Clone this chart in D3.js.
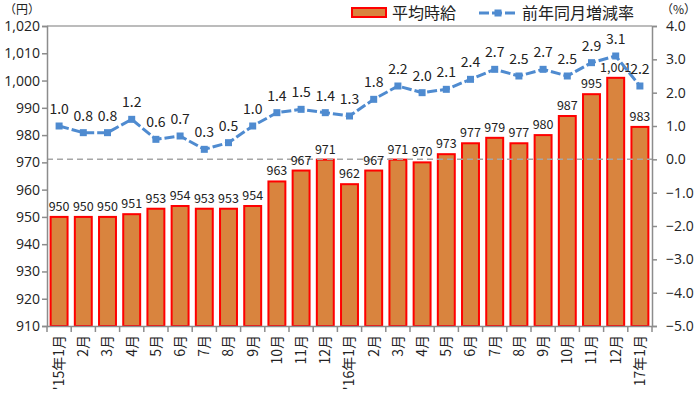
<!DOCTYPE html>
<html><head><meta charset="utf-8">
<script src="https://cdn.jsdelivr.net/npm/d3@7"></script>
<style>body{margin:0;background:#fff}svg{display:block;font-family:"Noto Sans CJK JP","Noto Sans",sans-serif}</style>
</head><body><svg id="c" width="700" height="396"></svg>
<script>
const categories = ["'15年1月","2月","3月","4月","5月","6月","7月","8月","9月","10月","11月","12月",
  "'16年1月","2月","3月","4月","5月","6月","7月","8月","9月","10月","11月","12月","17年1月"];
const wage = [950,950,950,951,953,954,953,953,954,963,967,971,962,967,971,970,973,977,979,977,980,987,995,1001,983];
const yoy = [1.0,0.8,0.8,1.2,0.6,0.7,0.3,0.5,1.0,1.4,1.5,1.4,1.3,1.8,2.2,2.0,2.1,2.4,2.7,2.5,2.7,2.5,2.9,3.1,2.2];
const leftTicks = [910,920,930,940,950,960,970,980,990,1000,1010,1020];
const rightTicks = [-5,-4,-3,-2,-1,0,1,2,3,4];
const seriesNames = ["平均時給","前年同月増減率"];

const svg = d3.select("#c");
const L = 47, R = 652, T = 26, B = 326;
const x = d3.scaleBand().domain(d3.range(categories.length)).range([L, R]).paddingInner(0.3).paddingOuter(0.15);
const yL = d3.scaleLinear().domain([910, 1020]).range([B, T]);
const yR = d3.scaleLinear().domain([-5, 4]).range([B, T]);
const axisCol = "#8c8c8c", txtCol = "#222";
const barFill = "#D9843E", barStroke = "#FF0000", lineCol = "#4F8BD0";

// top border
svg.append("line").attr("x1", L).attr("x2", R).attr("y1", T).attr("y2", T).attr("stroke", "#a6a6a6").attr("stroke-width", 1.5);

// bars
svg.selectAll("rect.bar").data(wage).join("rect").attr("class", "bar")
  .attr("x", (d, i) => x(i)).attr("width", x.bandwidth())
  .attr("y", d => yL(d)).attr("height", d => B - yL(d))
  .attr("fill", barFill).attr("stroke", barStroke).attr("stroke-width", 2);

// zero line
svg.append("line").attr("x1", L).attr("x2", R).attr("y1", yR(0)).attr("y2", yR(0))
  .attr("stroke", "#a6a6a6").attr("stroke-width", 1.5).attr("stroke-dasharray", "6,4");

// bar labels
svg.selectAll("text.bl").data(wage).join("text").attr("class", "bl")
  .attr("x", (d, i) => x(i) + x.bandwidth() / 2).attr("y", d => yL(d) - 6)
  .attr("text-anchor", "middle").attr("font-size", 12.5).attr("fill", txtCol)
  .text(d => d3.format(",")(d));

// line
const cx = i => x(i) + x.bandwidth() / 2;
svg.append("path").datum(yoy)
  .attr("d", d3.line().x((d, i) => cx(i)).y(d => yR(d)))
  .attr("fill", "none").attr("stroke", lineCol).attr("stroke-width", 3).attr("stroke-dasharray", "10,3");
svg.selectAll("rect.mk").data(yoy).join("rect").attr("class", "mk")
  .attr("x", (d, i) => cx(i) - 3.5).attr("y", d => yR(d) - 3.5).attr("width", 7).attr("height", 7).attr("fill", lineCol);
svg.selectAll("text.ll").data(yoy).join("text").attr("class", "ll")
  .attr("x", (d, i) => cx(i)).attr("y", d => yR(d) - 12)
  .attr("text-anchor", "middle").attr("font-size", 14).attr("fill", txtCol)
  .text(d => d.toFixed(1));

// left axis
const gL = svg.append("g").attr("transform", `translate(${L},0)`)
  .call(d3.axisLeft(yL).tickValues(leftTicks).tickSize(5).tickFormat(d3.format(",")));
// right axis
const gR = svg.append("g").attr("transform", `translate(${R},0)`)
  .call(d3.axisRight(yR).tickValues(rightTicks).tickSize(5).tickFormat(d3.format(".1f")));
// bottom axis
const gB = svg.append("g").attr("transform", `translate(0,${B})`)
  .call(d3.axisBottom(x).tickSize(0).tickFormat(i => categories[i]));
[gL, gR, gB].forEach(g => {
  g.selectAll("path.domain").attr("stroke", axisCol).attr("stroke-width", 1.5);
  g.selectAll(".tick line").attr("stroke", axisCol).attr("stroke-width", 1.5);
  g.selectAll("text").attr("fill", txtCol).attr("font-size", 14)
    .attr("font-family", "'Noto Sans CJK JP','Noto Sans',sans-serif");
});
gL.selectAll("text").attr("x", -7).attr("font-family", "'Open Sans','Noto Sans',sans-serif");
gR.selectAll("text").attr("x", 14).attr("font-family", "'Open Sans','Noto Sans',sans-serif");
gB.selectAll(".tick text").attr("transform", "rotate(-90)").attr("text-anchor", "end")
  .attr("x", -9).attr("y", 0).attr("dy", "0.35em");
// boundary ticks on bottom axis
const bounds = d3.range(categories.length + 1).map(i => L + (R - L) / categories.length * i);
gB.selectAll("line.bt").data(bounds).join("line").attr("class", "bt")
  .attr("x1", d => d).attr("x2", d => d).attr("y1", 0).attr("y2", 6)
  .attr("stroke", axisCol).attr("stroke-width", 1.5);

// unit labels
svg.append("text").attr("x", 4).attr("y", 14).attr("font-size", 12).attr("fill", txtCol).text("（円）");
svg.append("text").attr("x", 661).attr("y", 14).attr("font-size", 12).attr("fill", txtCol).text("（%）");

// legend
const lg = svg.append("g");
lg.append("rect").attr("x", 352).attr("y", 8).attr("width", 34).attr("height", 9)
  .attr("fill", barFill).attr("stroke", barStroke).attr("stroke-width", 2);
lg.append("text").attr("x", 392).attr("y", 19).attr("font-size", 16).attr("fill", txtCol).text(seriesNames[0]);
lg.append("line").attr("x1", 479).attr("x2", 517).attr("y1", 13).attr("y2", 13)
  .attr("stroke", lineCol).attr("stroke-width", 3).attr("stroke-dasharray", "10,3");
lg.append("rect").attr("x", 494.5).attr("y", 9.5).attr("width", 7).attr("height", 7).attr("fill", lineCol);
lg.append("text").attr("x", 522).attr("y", 19).attr("font-size", 16).attr("fill", txtCol).text(seriesNames[1]);
</script></body></html>
